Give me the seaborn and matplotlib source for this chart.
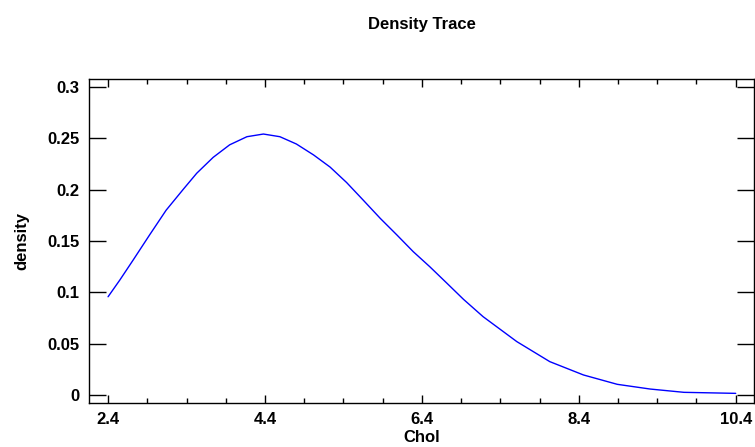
import matplotlib
matplotlib.use("Agg")
import matplotlib.pyplot as plt
from matplotlib.ticker import FixedLocator
import seaborn as sns
import pandas as pd

chol = [2.40, 2.55, 2.72, 2.93, 3.14, 3.36, 3.53, 3.74, 3.95, 4.17, 4.38, 4.59, 4.80,
        5.02, 5.23, 5.44, 5.65, 5.87, 6.08, 6.29, 6.50, 6.72, 6.93, 7.18, 7.61, 8.03,
        8.46, 8.89, 9.31, 9.74, 10.40]
density = [0.0957, 0.112, 0.1315, 0.156, 0.180, 0.2005, 0.2160, 0.2315, 0.2437, 0.2516, 0.2542,
           0.2516, 0.2445, 0.2338, 0.222, 0.207, 0.190, 0.172, 0.156, 0.1396, 0.125, 0.1088,
           0.0932, 0.0763, 0.052, 0.0325, 0.0195, 0.0104, 0.0058, 0.0026, 0.0016]
x_ticks = [2.4, 4.4, 6.4, 8.4, 10.4]
y_ticks = [0, 0.05, 0.1, 0.15, 0.2, 0.25, 0.3]
y_labels = ["0", "0.05", "0.1", "0.15", "0.2", "0.25", "0.3"]

sns.set_style("white")
plt.rcParams["font.family"] = ["Liberation Sans", "DejaVu Sans"]
plt.rcParams["text.color"] = "black"
plt.rcParams["axes.labelcolor"] = "black"
plt.rcParams["xtick.color"] = "black"
plt.rcParams["ytick.color"] = "black"

fig = plt.figure(figsize=(7.55, 4.47), dpi=100)
ax = fig.add_axes([89/755, 1-402.7/447, (754-89)/755, (402.7-78.7)/447])

df = pd.DataFrame({"Chol": chol, "density": density})
sns.lineplot(data=df, x="Chol", y="density", ax=ax, color="#0000FF", linewidth=1.0)

ax.set_xlim(2.157, 10.633)
ax.set_ylim(-0.0075, 0.3081)
ax.xaxis.set_major_locator(FixedLocator(x_ticks))
ax.xaxis.set_minor_locator(FixedLocator([2.4 + 0.5*i for i in range(17)]))
ax.set_xticklabels([f"{t:g}" for t in x_ticks])
ax.yaxis.set_major_locator(FixedLocator(y_ticks))
ax.set_yticklabels(y_labels)

for s in ax.spines.values():
    s.set_visible(True)
    s.set_color("black")
    s.set_linewidth(1.0)

ax.tick_params(axis="y", which="major", direction="in", length=12, width=1, left=True, right=True,
               pad=7, labelsize=12, color="black", labelcolor="black")
ax.tick_params(axis="x", which="major", direction="in", length=5.5, width=1, bottom=True, top=True,
               pad=7, labelsize=12, color="black", labelcolor="black")
ax.tick_params(axis="x", which="minor", direction="in", length=3.5, width=1, bottom=True, top=True,
               color="black")
for lab in ax.get_xticklabels() + ax.get_yticklabels():
    lab.set_fontweight("bold")

ax.set_xlabel("")
ax.set_ylabel("density", fontsize=12, fontweight="bold", labelpad=13, color="black")
fig.text(421.5/755, 1-437/447, "Chol", ha="center", va="center", fontsize=12, fontweight="bold", color="black")
fig.text(421.5/755, 1-24/447, "Density Trace", ha="center", va="center", fontsize=12, fontweight="bold", color="black")

fig.savefig("out.png", dpi=100)
